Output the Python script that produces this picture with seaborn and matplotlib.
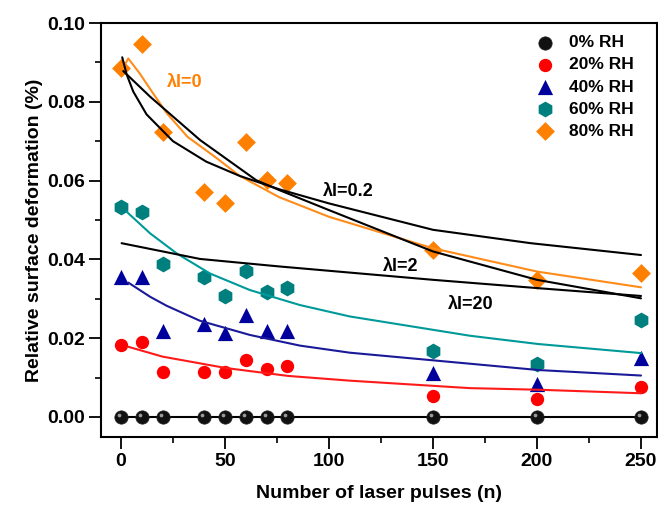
import matplotlib
matplotlib.use("Agg")
import matplotlib.pyplot as plt
import seaborn as sns
import numpy as np
from matplotlib.path import Path
from matplotlib.ticker import MultipleLocator, FormatStrFormatter

# ---------------- data ----------------
pulses = [0, 10, 20, 40, 50, 60, 70, 80, 150, 200, 250]
rh0 = [0, 0, 0, 0, 0, 0, 0, 0, 0, 0, 0]
rh20 = [0.0183, 0.0191, 0.0115, 0.0115, 0.0113, 0.0145, 0.0122, 0.0128, 0.0053, 0.0046, 0.0077]
rh40 = [0.0356, 0.0355, 0.0217, 0.0236, 0.0212, 0.0259, 0.0217, 0.0217, 0.0111, 0.0083, 0.0149]
rh60 = [0.0534, 0.0519, 0.0388, 0.0354, 0.0308, 0.0371, 0.0318, 0.0328, 0.0168, 0.0134, 0.0245]
rh80 = [0.0885, 0.0946, 0.0724, 0.0572, 0.0544, 0.0697, 0.0601, 0.0593, 0.0424, 0.0348, 0.0365]
series_labels = ["0% RH", "20% RH", "40% RH", "60% RH", "80% RH"]

# fitted curves
fit0_x = [0, 250]
fit0_y = [0.0, 0.0]
fit20_x = [3.5, 20, 50.5, 80.4, 110, 167.8, 200.6, 250]
fit20_y = [0.0178, 0.0153, 0.0124, 0.0104, 0.0092, 0.0073, 0.0069, 0.0060]
fit40_x = [3.5, 14, 22, 38, 62, 86, 110, 167.8, 200.6, 250]
fit40_y = [0.0341, 0.0305, 0.0282, 0.0244, 0.0208, 0.0181, 0.0163, 0.0135, 0.0119, 0.0105]
fit60_x = [2.7, 14, 26.8, 42.8, 62, 86, 110, 167.8, 200.6, 250]
fit60_y = [0.0521, 0.0466, 0.0415, 0.0364, 0.0322, 0.0284, 0.0255, 0.0206, 0.0185, 0.0162]
fit80_x = [1, 3.5, 9, 15.5, 22, 32, 46, 57, 76, 100, 150, 200, 250]
fit80_y = [0.0886, 0.0910, 0.0872, 0.0821, 0.0771, 0.0711, 0.0657, 0.0612, 0.0558, 0.0508, 0.0428, 0.0369, 0.0329]
lam02_x = [0.6, 2.7, 5.9, 12.3, 25, 41, 57, 76, 100, 150, 197, 250]
lam02_y = [0.0913, 0.0870, 0.0826, 0.0768, 0.0700, 0.0648, 0.0612, 0.0578, 0.0542, 0.0475, 0.0441, 0.0411]
lam2_x = [1.1, 14, 38, 65, 76, 100, 150, 200, 250]
lam2_y = [0.0878, 0.0813, 0.0703, 0.0601, 0.0576, 0.0525, 0.0420, 0.0348, 0.0301]
lam20_x = [0.3, 38, 76, 150, 200, 250]
lam20_y = [0.0441, 0.0401, 0.0382, 0.0348, 0.0327, 0.0307]

curve_labels = ["λl=0", "λl=0.2", "λl=2", "λl=20"]
curve_label_pos_x = [22, 97, 126, 157]
curve_label_pos_y = [0.0848, 0.0572, 0.0383, 0.0286]

# ---------------- style ----------------
sns.set_style("ticks")
plt.rcParams["font.family"] = ["Liberation Sans", "DejaVu Sans"]
plt.rcParams["font.weight"] = "bold"
for k in ["text.color", "axes.labelcolor", "xtick.color", "ytick.color", "axes.edgecolor"]:
    plt.rcParams[k] = "black"

fig = plt.figure(figsize=(6.58, 5.08), dpi=100)
ax = fig.add_axes([0.1535, 0.1398, 0.845, 0.8149])

c_red = "#ff0000"
c_blue = "#00009c"
c_teal = "#007f7f"
c_orange = "#ff8000"

# glossy highlight marker for the black spheres
theta = np.linspace(0, 2 * np.pi, 30)
hl_verts = [(1, 1), (-1, -1)] + list(zip(-0.3 + 0.28 * np.cos(theta), 0.3 + 0.28 * np.sin(theta)))
hl_codes = [Path.MOVETO, Path.MOVETO, Path.MOVETO] + [Path.LINETO] * 28 + [Path.CLOSEPOLY]
highlight = Path(hl_verts, hl_codes)

# markers
sns.scatterplot(x=pulses, y=rh0, marker="o", s=92, color="#111111",
                edgecolor="#222222", linewidth=0.5, label=series_labels[0], ax=ax, zorder=3)
ax.scatter(pulses, rh0, marker=highlight, s=92, color="#9a9a9a", linewidth=0, zorder=3.5)
sns.scatterplot(x=pulses, y=rh20, marker="o", s=92, color=c_red,
                linewidth=0, label=series_labels[1], ax=ax, zorder=3)
sns.scatterplot(x=pulses, y=rh40, marker="^", s=120, color=c_blue,
                linewidth=0, label=series_labels[2], ax=ax, zorder=3)
sns.scatterplot(x=pulses, y=rh60, marker="h", s=130, color=c_teal,
                linewidth=0, label=series_labels[3], ax=ax, zorder=3)
sns.scatterplot(x=pulses, y=rh80, marker="D", s=92, color=c_orange,
                linewidth=0, label=series_labels[4], ax=ax, zorder=3)

# curves
lw = 1.5
sns.lineplot(x=fit0_x, y=fit0_y, color="black", lw=lw, ax=ax, zorder=2, legend=False)
sns.lineplot(x=fit20_x, y=fit20_y, color="#ff1a1a", lw=lw, ax=ax, zorder=4, legend=False)
sns.lineplot(x=fit40_x, y=fit40_y, color="#1a1a99", lw=lw, ax=ax, zorder=4, legend=False)
sns.lineplot(x=fit60_x, y=fit60_y, color="#009999", lw=lw, ax=ax, zorder=4, legend=False)
sns.lineplot(x=fit80_x, y=fit80_y, color="#ff8c1a", lw=lw, ax=ax, zorder=4, legend=False)
sns.lineplot(x=lam02_x, y=lam02_y, color="black", lw=lw, ax=ax, zorder=4, legend=False)
sns.lineplot(x=lam2_x, y=lam2_y, color="black", lw=lw, ax=ax, zorder=4, legend=False)
sns.lineplot(x=lam20_x, y=lam20_y, color="black", lw=lw, ax=ax, zorder=4, legend=False)

# curve labels
label_colors = [c_orange, "black", "black", "black"]
for t, xx, yy, cc in zip(curve_labels, curve_label_pos_x, curve_label_pos_y, label_colors):
    ax.text(xx, yy, t, color=cc, fontsize=13, fontweight="bold", va="center", ha="left", zorder=5)

# axes
ax.set_xlim(-9.6, 257.7)
ax.set_ylim(-0.0051, 0.1)
ax.xaxis.set_major_locator(MultipleLocator(50))
ax.xaxis.set_minor_locator(MultipleLocator(25))
ax.yaxis.set_major_locator(MultipleLocator(0.02))
ax.yaxis.set_minor_locator(MultipleLocator(0.01))
ax.yaxis.set_major_formatter(FormatStrFormatter("%.2f"))
ax.tick_params(which="major", direction="out", length=8.5, width=1.3, labelsize=14, pad=3,
               colors="black")
ax.tick_params(which="minor", direction="out", length=4.5, width=1.2, colors="black")
ax.tick_params(top=False, right=False)
for sp in ax.spines.values():
    sp.set_linewidth(1.5)
    sp.set_color("black")

ax.set_xlabel("Number of laser pulses (n)", fontsize=14, fontweight="bold", labelpad=11, color="black")
ax.set_ylabel("Relative surface deformation (%)", fontsize=14, fontweight="bold", labelpad=3, color="black")

leg = ax.legend(loc="upper left", bbox_to_anchor=(0.745, 1.0), frameon=False,
                borderaxespad=0.3, handletextpad=0.4, labelspacing=0.4,
                prop={"weight": "bold", "size": 12.5})
for txt in leg.get_texts():
    txt.set_color("black")

fig.savefig("out.png", dpi=100)
